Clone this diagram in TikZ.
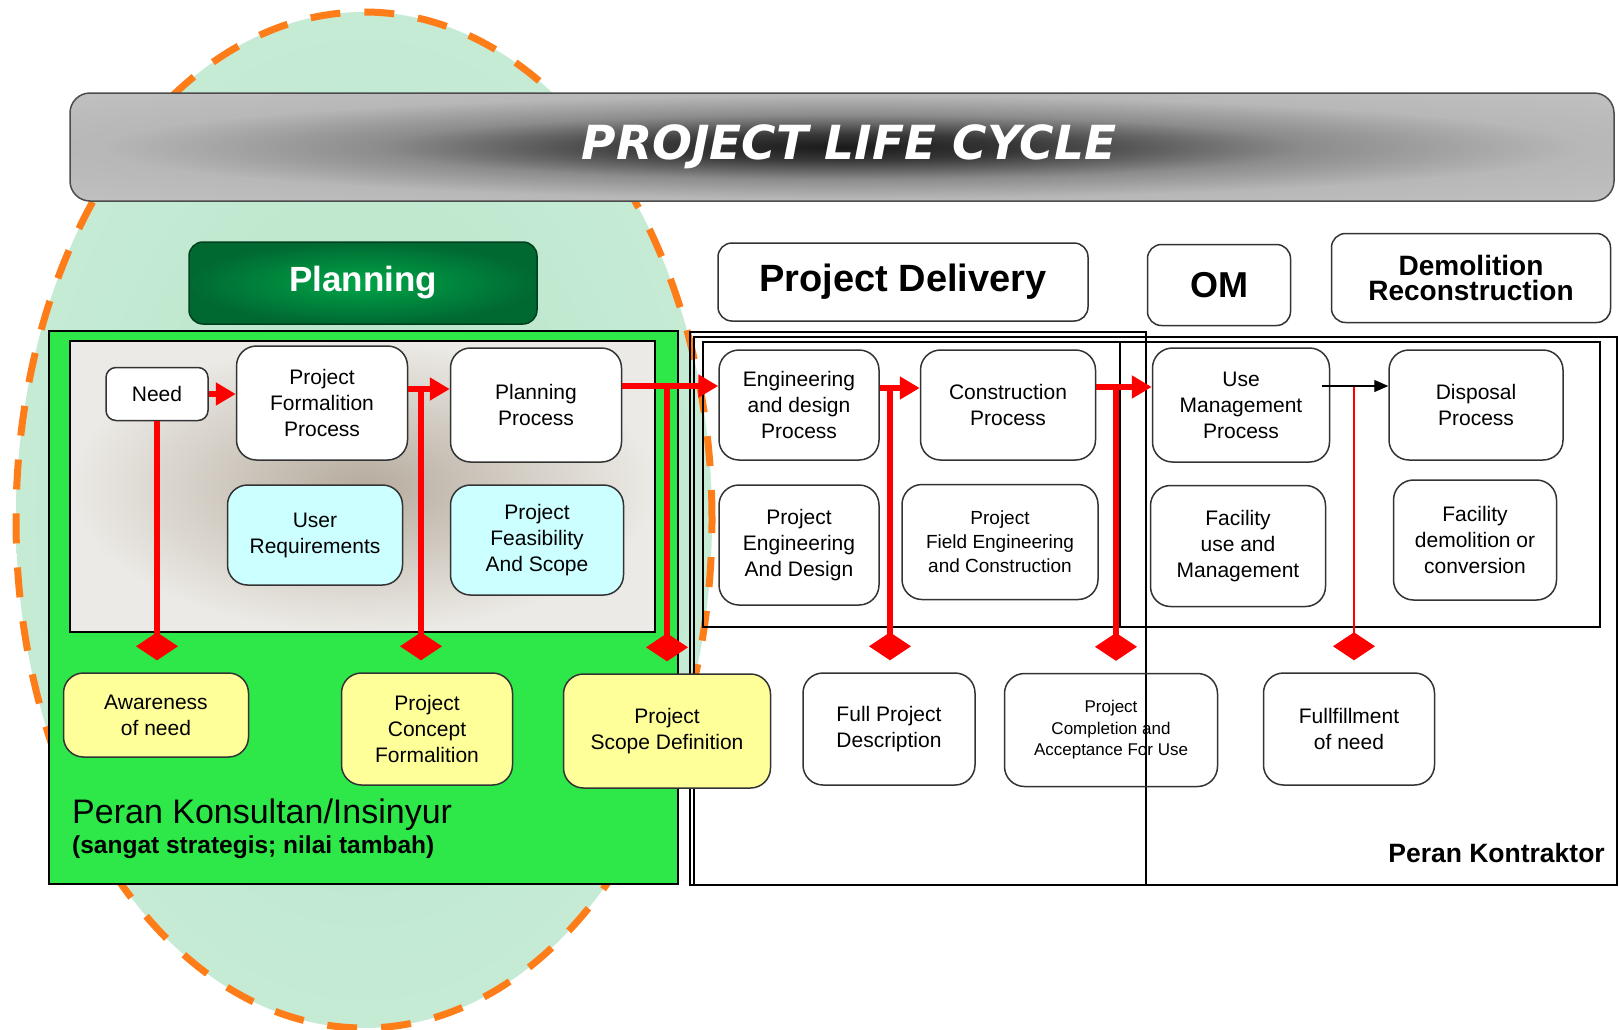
\documentclass[tikz,border=0pt]{standalone}
\usepackage{fontspec}
\setmainfont{Liberation Sans}
\newfontfamily\titlefont{DejaVu Sans}
\usetikzlibrary{arrows.meta, positioning, calc}

\definecolor{mint}{RGB}{207,239,222}
\definecolor{mintdark}{RGB}{182,228,198}
\definecolor{lime}{RGB}{46,232,74}
\definecolor{paleblue}{RGB}{204,255,255}
\definecolor{paleyellow}{RGB}{255,255,153}
\definecolor{dashorange}{RGB}{255,125,25}
\definecolor{darkgreen}{RGB}{0,105,50}
\definecolor{midgreen}{RGB}{0,165,72}
\definecolor{lightgrey}{RGB}{236,234,230}
\definecolor{taupe}{RGB}{182,172,158}

\pgfdeclareradialshading{ovalshade}{\pgfpoint{0bp}{0bp}}{color(0bp)=(mintdark); color(40bp)=(mint); color(75bp)=(mint)}
\pgfdeclareradialshading{bannershade}{\pgfpoint{0bp}{0bp}}{color(0bp)=(black!90); color(6bp)=(black!78); color(15bp)=(black!45); color(24bp)=(black!28); color(50bp)=(black!20); color(75bp)=(black!20)}

\begin{document}
\begin{tikzpicture}[
  x=1pt, y=-1pt,
  font=\fontsize{21}{26}\selectfont,
  box/.style={draw=black!80, line width=1.5pt, fill=white, rounded corners=20pt, align=center, inner sep=0pt},
  cyanbox/.style={box, fill=paleblue},
  yellowbox/.style={box, fill=paleyellow},
  headbox/.style={draw=black!80, line width=1.5pt, fill=white, rounded corners=14pt, align=center, font=\bfseries\fontsize{38}{40}\selectfont},
  redarrow/.style={-{Triangle[length=20pt, width=22pt]}, red, line width=6pt},
  redlink/.style={-{Diamond[length=28pt, width=42pt]}, red, line width=6pt, shorten >=12pt},
  blackarrow/.style={-{Triangle[length=14pt, width=12pt]}, line width=1.2pt}
]
\useasboundingbox (0,0) rectangle (1619,1029);

% oval behind the planning phase
\draw[shade, shading=ovalshade, draw=dashorange, line width=7pt, dash pattern=on 30pt off 24pt]
  (364,520) ellipse [x radius=348pt, y radius=508pt];

% banner and phase headers
\node[shade, shading=bannershade, draw=black!70, line width=1.5pt, rounded corners=20pt,
  minimum width=1544pt, minimum height=108pt] (title) at (842,147) {};
\node[text=white, inner sep=0pt, font=\titlefont\bfseries\itshape\fontsize{47}{50}\selectfont]
  (titletext) at (849,147) {PROJECT LIFE CYCLE};
\node[draw=darkgreen!60!black, line width=1.5pt, rounded corners=14pt, inner color=midgreen, outer color=darkgreen,
  minimum width=348pt, minimum height=82pt, text=white,
  font=\bfseries\fontsize{35}{40}\selectfont] (plan) at (363,283) {Planning};
\node[headbox, minimum width=370pt, minimum height=78pt] (deliv) at (903,282) {Project Delivery};
\node[headbox, minimum width=143pt, minimum height=81pt, font=\bfseries\fontsize{36}{40}\selectfont] (om) at (1219,285) {OM};
\node[headbox, minimum width=279pt, minimum height=89pt, font=\bfseries\fontsize{28}{25}\selectfont] (demo) at (1471,278) {Demolition\\Reconstruction};

% consultant area
\draw[fill=lime, line width=1.5pt] (49,331) rectangle (678,884);
\draw[shade, inner color=taupe, outer color=lightgrey, line width=1.5pt] (70,341) rectangle (655,632);

% contractor frames
\draw[line width=1.2pt] (690,332) rectangle (1146,885);
\draw[line width=1.2pt] (694,337) rectangle (1617,885);
\draw[line width=1.2pt] (703,342) rectangle (1600,627);
\draw[line width=2.5pt] (1120,342) -- (1120,627);

% planning
\node[box, rounded corners=10pt, minimum width=102pt, minimum height=53pt] (A) at (157,394) {Need};
\node[box, minimum width=171pt, minimum height=114pt] (B) at (322,403) {Project\\Formalition\\Process};
\node[box, minimum width=171pt, minimum height=114pt] (C) at (536,405) {Planning\\Process};
\node[cyanbox, minimum width=175pt, minimum height=100pt] (D) at (315,535) {User\\Requirements};
\node[cyanbox, minimum width=173pt, minimum height=110pt] (E) at (537,540) {Project\\Feasibility\\And Scope};

% delivery
\node[box, minimum width=160pt, minimum height=110pt] (F) at (799,405) {Engineering\\and design\\Process};
\node[box, minimum width=175pt, minimum height=110pt] (G) at (1008,405) {Construction\\Process};
\node[box, minimum width=160pt, minimum height=120pt] (H) at (799,545) {Project\\Engineering\\And Design};
\node[box, minimum width=196pt, minimum height=115pt, font=\fontsize{19}{24}\selectfont] (I) at (1000,542) {Project\\Field Engineering\\and Construction};

% operation and demolition
\node[box, minimum width=177pt, minimum height=114pt] (J) at (1241,405) {Use\\Management\\Process};
\node[box, minimum width=174pt, minimum height=110pt] (K) at (1476,405) {Disposal\\Process};
\node[box, minimum width=175pt, minimum height=121pt] (L) at (1238,546) {Facility\\use and\\Management};
\node[box, minimum width=163pt, minimum height=120pt] (M) at (1475,540) {Facility\\demolition or\\conversion};

% outcomes
\node[yellowbox, minimum width=185pt, minimum height=84pt] (P) at (156,715) {Awareness\\of need};
\node[yellowbox, minimum width=171pt, minimum height=112pt] (Q) at (427,729) {Project\\Concept\\Formalition};
\node[yellowbox, minimum width=207pt, minimum height=114pt] (R) at (667,731) {Project\\Scope Definition};
\node[box, minimum width=172pt, minimum height=112pt] (S) at (889,729) {Full Project\\Description};
\node[box, fill=none, minimum width=213pt, minimum height=113pt, font=\fontsize{17}{21.5}\selectfont] (T) at (1111,730) {Project\\Completion and\\Acceptance For Use};
\node[box, minimum width=171pt, minimum height=112pt] (U) at (1349,729) {Fullfillment\\of need};

% junctions on the flow
\coordinate (j1) at (421,389);
\coordinate (j2) at (667,386);
\coordinate (j3) at (890,388);
\coordinate (j4) at (1116,387);
\coordinate (j5) at (1354,386);

\draw[redlink] (A.south) -- (A.south |- P.north);
\draw[redlink] (j1) -- (j1 |- Q.north);
\draw[redlink] (j2) -- (j2 |- R.north);
\draw[redlink] (j3) -- (j3 |- S.north);
\draw[redlink] (j4) -- (j4 |- T.north);
\draw[redlink, line width=1.2pt] (j5) -- (j5 |- U.north);

\draw[redarrow] (A.east) -- (A.east -| B.west);
\draw[redarrow] (B.east |- j1) -- (C.west |- j1);
\draw[redarrow] (C.east |- j2) -- (F.west |- j2);
\draw[redarrow] (F.east |- j3) -- (G.west |- j3);
\draw[redarrow] (G.east |- j4) -- (J.west |- j4);
\draw[blackarrow] ($(J.east |- j5)+(-8,0)$) -- (K.west |- j5);

% roles
\node[anchor=base west, inner sep=0pt, font=\fontsize{34}{38}\selectfont] (role1) at (72,823) {Peran Konsultan/Insinyur};
\node[anchor=base west, inner sep=0pt, font=\bfseries\fontsize{24.5}{27}\selectfont] (role2) at (72,853) {(sangat strategis; nilai tambah)};
\node[anchor=base east, inner sep=0pt, font=\bfseries\fontsize{26.5}{29}\selectfont] (role3) at (1605,862) {Peran Kontraktor};
\end{tikzpicture}
\end{document}
